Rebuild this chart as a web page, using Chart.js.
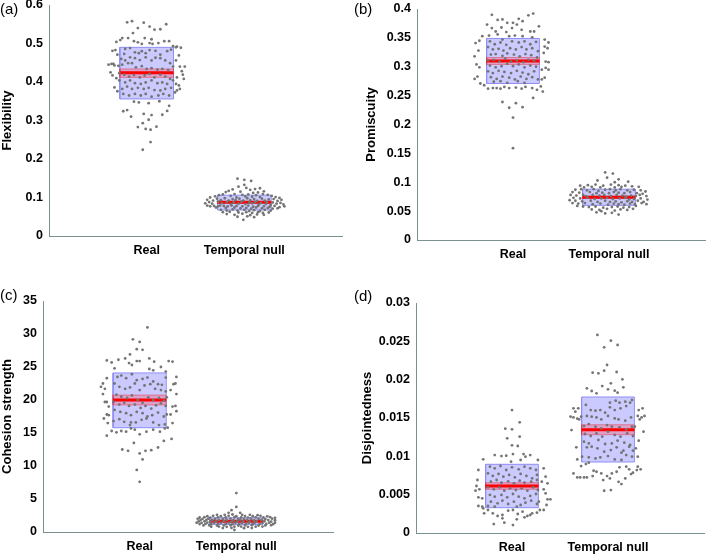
<!DOCTYPE html>
<html>
<head>
<meta charset="utf-8">
<script src="https://cdn.jsdelivr.net/npm/chart.js@4.4.1/dist/chart.umd.min.js"></script>
<style>
  body { margin: 0; background: #fff; }
  #wrap { position: relative; width: 709px; height: 554px; }
  #wrap canvas { position: absolute; left: 0; top: 0; }
  .tag { position: absolute; font: 15px "Liberation Sans", Arial, sans-serif; color: #000; line-height: 18px; }
</style>
</head>
<body>
<div id="wrap">
  <canvas id="pa" width="709" height="554"></canvas>
  <canvas id="pb" width="709" height="554"></canvas>
  <canvas id="pc" width="709" height="554"></canvas>
  <canvas id="pd" width="709" height="554"></canvas>
  <div class="tag" style="left:0;top:0">(a)</div>
  <div class="tag" style="left:354px;top:0">(b)</div>
  <div class="tag" style="left:0;top:286px">(c)</div>
  <div class="tag" style="left:354px;top:287px">(d)</div>
</div>
<script>
// categories and axis setup
const groups = ['Real', 'Temporal null'];
const yTitles = ['Flexibility', 'Promiscuity', 'Cohesion strength', 'Disjointedness'];
const yMax = [0.6, 0.4, 35, 0.03];
const yStep = [0.1, 0.05, 5, 0.005];

// summary stats per panel: [Real, Temporal null]
const means   = [[0.424, 0.0875], [0.310, 0.074], [20.0, 1.62], [0.00613, 0.01347]];
const boxLow  = [[0.356, 0.0675], [0.271, 0.060], [15.8, 1.15], [0.0033, 0.00926]];
const boxHigh = [[0.490, 0.106],  [0.349, 0.088], [24.1, 2.15], [0.00896, 0.01774]];
const semLow  = [[0.412, 0.085],  [0.304, 0.072], [19.25, 1.55], [0.0057, 0.01282]];
const semHigh = [[0.434, 0.090],  [0.316, 0.076], [20.75, 1.70], [0.00656, 0.01412]];

// individual subjects: [horizontal jitter, value]
const flexReal = [
  [-0.20,0.555],[-0.15,0.558],[-0.03,0.554],[-0.09,0.540],[0.03,0.544],[0.08,0.536],[0.14,0.537],[0.20,0.550],
  [-0.25,0.514],[-0.19,0.514],[-0.31,0.504],[-0.27,0.509],[-0.14,0.527],[-0.09,0.503],[-0.05,0.499],[-0.02,0.514],
  [0.05,0.511],[0.06,0.499],[0.12,0.501],[0.18,0.506],[0.23,0.506],[0.31,0.492],[0.27,0.493],[0.35,0.489],[0.03,0.501],[-0.13,0.506],
  [-0.35,0.481],[-0.32,0.483],[-0.23,0.473],[-0.22,0.486],[-0.17,0.488],[-0.12,0.477],[-0.08,0.475],[-0.05,0.480],
  [-0.01,0.475],[0.03,0.483],[0.09,0.481],[0.14,0.471],[0.21,0.480],[0.25,0.484],[0.30,0.490],[0.33,0.469],
  [0.30,0.456],[0.24,0.449],[0.19,0.456],[0.14,0.462],[0.09,0.463],[0.05,0.456],[-0.01,0.464],[-0.07,0.457],
  [-0.12,0.462],[-0.17,0.464],[-0.22,0.456],[-0.26,0.460],[-0.30,0.471],[-0.34,0.447],[-0.39,0.445],[-0.36,0.447],
  [-0.33,0.443],[-0.29,0.442],[-0.25,0.445],[-0.19,0.449],[-0.15,0.449],[-0.11,0.438],[-0.05,0.441],[0.00,0.434],
  [0.05,0.436],[0.11,0.432],[0.16,0.434],[0.22,0.431],[0.27,0.440],[0.34,0.440],[0.39,0.440],[0.36,0.428],
  [0.37,0.419],[0.38,0.408],[0.31,0.412],[0.24,0.408],[0.19,0.414],[0.14,0.419],[0.08,0.412],[0.03,0.421],
  [-0.02,0.417],[-0.07,0.412],[-0.13,0.418],[-0.18,0.414],[-0.23,0.419],[-0.28,0.423],[-0.37,0.425],[-0.35,0.417],
  [-0.31,0.410],[-0.28,0.404],[-0.22,0.399],[-0.17,0.404],[-0.12,0.397],[-0.06,0.395],[-0.01,0.399],[0.05,0.404],
  [0.11,0.397],[0.16,0.399],[0.21,0.395],[0.27,0.404],[0.30,0.395],[0.33,0.391],[0.25,0.385],[0.19,0.382],
  [0.14,0.378],[0.08,0.379],[0.02,0.385],[-0.03,0.382],[-0.09,0.385],[-0.15,0.382],[-0.20,0.388],[-0.25,0.382],
  [-0.33,0.386],[-0.30,0.376],[-0.24,0.369],[-0.18,0.365],[-0.12,0.369],[-0.06,0.365],[-0.01,0.369],[0.05,0.362],
  [0.12,0.365],[0.17,0.369],[0.23,0.365],[0.29,0.373],[0.31,0.378],[0.34,0.382],
  [-0.13,0.349],[-0.08,0.347],[0.02,0.345],[0.13,0.350],[0.23,0.338],[-0.20,0.327],[-0.24,0.324],[-0.16,0.310],
  [-0.03,0.317],[0.05,0.314],[0.16,0.315],[0.21,0.325],[0.02,0.302],[-0.09,0.283],[-0.04,0.293],[-0.01,0.278],
  [0.04,0.276],[0.10,0.284],[0.04,0.244],[-0.04,0.224]
];
const flexNull = [
  [-0.07,0.149],[0.00,0.146],[0.07,0.143],[0.00,0.133],[-0.06,0.128],[0.02,0.125],[-0.12,0.121],[0.06,0.120],
  [0.11,0.122],[0.16,0.124],[-0.16,0.117],[0.20,0.116],[-0.19,0.114],[0.14,0.113],[-0.04,0.115],[0.09,0.112],
  [-0.22,0.108],[-0.26,0.106],[-0.10,0.109],[-0.02,0.107],[0.04,0.108],[0.12,0.106],[0.19,0.109],[0.24,0.107],
  [0.28,0.104],[-0.30,0.103],[-0.14,0.104],[0.01,0.103],[0.08,0.102],[0.16,0.101],[0.32,0.101],[-0.35,0.100],
  [0.36,0.099],[-0.08,0.100],[-0.28,0.097],[-0.20,0.098],[-0.12,0.096],[-0.05,0.097],[0.03,0.098],[0.10,0.096],
  [0.18,0.097],[0.25,0.095],[0.30,0.096],[0.38,0.094],[-0.38,0.094],[-0.32,0.092],[-0.24,0.093],[-0.16,0.092],
  [-0.09,0.093],[-0.01,0.092],[0.06,0.093],[0.13,0.091],[0.21,0.092],[0.34,0.091],[-0.36,0.088],[-0.27,0.089],
  [-0.18,0.088],[-0.11,0.087],[-0.03,0.089],[0.05,0.087],[0.11,0.088],[0.17,0.086],[0.23,0.088],[0.29,0.087],
  [0.37,0.086],[-0.40,0.085],[-0.33,0.084],[-0.23,0.085],[-0.14,0.083],[-0.06,0.084],[0.01,0.083],[0.08,0.085],
  [0.15,0.082],[0.22,0.083],[0.27,0.081],[0.33,0.084],[0.40,0.082],[-0.38,0.079],[-0.35,0.077],[-0.31,0.078],
  [-0.27,0.077],[-0.25,0.079],[-0.21,0.078],[-0.17,0.077],[-0.13,0.079],[-0.08,0.078],[-0.02,0.077],[0.04,0.079],
  [0.09,0.076],[0.14,0.078],[0.20,0.077],[0.26,0.076],[0.31,0.078],[0.36,0.075],[0.41,0.077],[-0.29,0.074],
  [-0.19,0.073],[-0.10,0.074],[-0.04,0.072],[0.02,0.073],[0.07,0.071],[0.12,0.074],[0.18,0.072],[0.24,0.073],
  [0.29,0.071],[0.34,0.072],[-0.24,0.068],[-0.18,0.066],[-0.12,0.069],[-0.07,0.066],[0.00,0.068],[0.05,0.065],
  [0.10,0.067],[0.16,0.065],[0.21,0.068],[0.27,0.066],[-0.22,0.062],[-0.15,0.063],[-0.06,0.061],[0.02,0.062],
  [0.08,0.060],[0.14,0.062],[0.19,0.060],[0.25,0.061],[-0.18,0.057],[-0.10,0.055],[-0.02,0.058],[0.06,0.054],
  [0.13,0.056],[0.20,0.055],[-0.07,0.050],[0.03,0.051],[0.10,0.049],[-0.01,0.042]
];
const promReal = [
  [-0.22,0.390],[-0.16,0.381],[-0.11,0.382],[-0.06,0.376],[0.00,0.376],[0.06,0.383],[0.10,0.379],[0.16,0.389],
  [0.21,0.392],[-0.27,0.373],[-0.22,0.367],[-0.18,0.361],[-0.12,0.368],[-0.07,0.360],[-0.01,0.367],[0.04,0.373],
  [0.09,0.364],[0.18,0.361],[0.22,0.361],[0.27,0.370],[-0.32,0.353],[-0.25,0.354],[-0.16,0.356],[-0.11,0.347],
  [-0.04,0.353],[0.02,0.354],[0.10,0.353],[0.20,0.351],[0.33,0.347],
  [-0.39,0.341],[-0.35,0.345],[-0.36,0.328],[-0.40,0.318],[-0.38,0.304],[-0.35,0.299],[-0.40,0.279],[-0.37,0.283],
  [-0.34,0.271],[-0.30,0.268],[0.33,0.335],[0.37,0.342],[0.36,0.332],[0.32,0.324],[0.34,0.309],[0.37,0.308],
  [0.30,0.295],[0.34,0.298],[0.37,0.295],[0.33,0.281],[0.30,0.278],[0.29,0.266],[0.31,0.257],
  [-0.24,0.344],[-0.19,0.339],[-0.13,0.342],[-0.07,0.338],[-0.01,0.344],[0.06,0.342],[0.12,0.344],[0.18,0.339],
  [0.24,0.343],[-0.26,0.334],[-0.21,0.330],[-0.15,0.331],[-0.10,0.328],[-0.03,0.332],[0.03,0.330],[0.09,0.334],
  [0.14,0.330],[0.20,0.332],[0.26,0.327],[-0.23,0.321],[-0.18,0.322],[-0.11,0.319],[-0.06,0.323],[0.01,0.321],
  [0.07,0.318],[0.13,0.322],[0.19,0.320],[0.25,0.316],[-0.26,0.311],[-0.20,0.312],[-0.14,0.309],[-0.08,0.314],
  [-0.02,0.309],[0.04,0.311],[0.11,0.308],[0.16,0.312],[0.22,0.311],[-0.24,0.302],[-0.18,0.299],[-0.12,0.301],
  [-0.06,0.305],[0.00,0.301],[0.06,0.304],[0.12,0.299],[0.18,0.302],[0.24,0.300],[-0.26,0.292],[-0.21,0.289],
  [-0.15,0.293],[-0.09,0.291],[-0.02,0.289],[0.04,0.293],[0.10,0.290],[0.16,0.287],[0.22,0.292],[-0.23,0.282],
  [-0.17,0.279],[-0.11,0.283],[-0.04,0.281],[0.02,0.278],[0.08,0.283],[0.14,0.279],[0.20,0.282],[0.26,0.278],
  [-0.20,0.274],[-0.13,0.275],[-0.06,0.272],[0.05,0.275],[0.12,0.272],
  [-0.26,0.262],[-0.21,0.263],[-0.17,0.263],[-0.13,0.262],[-0.09,0.265],[-0.04,0.263],[0.03,0.264],[0.09,0.262],
  [0.13,0.265],[0.20,0.263],[0.25,0.260],[-0.11,0.239],[0.03,0.237],[-0.04,0.229],[0.10,0.230],[0.00,0.212],
  [0.00,0.159],[0.21,0.246]
];
const promNull = [
  [-0.04,0.117],[0.04,0.115],[-0.02,0.108],[0.10,0.105],[-0.12,0.103],[0.20,0.101],[0.06,0.100],
  [-0.30,0.094],[-0.22,0.095],[-0.14,0.096],[-0.06,0.094],[0.02,0.096],[0.10,0.095],[0.17,0.094],[0.24,0.093],
  [0.31,0.092],[-0.26,0.091],[-0.18,0.092],[-0.09,0.091],[0.13,0.092],[0.06,0.091],
  [-0.35,0.087],[-0.29,0.088],[-0.23,0.086],[-0.16,0.088],[-0.11,0.085],[-0.04,0.087],[0.01,0.088],[0.07,0.086],
  [0.12,0.088],[0.19,0.086],[0.26,0.087],[0.33,0.086],[0.38,0.084],[-0.38,0.083],[-0.31,0.082],[-0.20,0.083],
  [-0.13,0.081],[-0.07,0.082],[0.00,0.081],[0.05,0.083],[0.10,0.082],[0.16,0.081],[0.22,0.083],[0.29,0.081],[0.35,0.080],
  [-0.40,0.078],[-0.34,0.077],[-0.27,0.078],[-0.24,0.076],[-0.17,0.078],[-0.10,0.077],[-0.05,0.078],[0.02,0.076],
  [0.08,0.078],[0.14,0.077],[0.18,0.075],[0.23,0.077],[0.28,0.076],[0.32,0.078],[0.39,0.076],[-0.37,0.073],
  [-0.30,0.072],[-0.22,0.073],[-0.15,0.071],[-0.08,0.072],[-0.02,0.073],[0.04,0.071],[0.11,0.072],[0.17,0.073],
  [0.21,0.070],[0.26,0.071],[0.33,0.072],[0.40,0.070],
  [-0.41,0.069],[-0.35,0.068],[-0.28,0.067],[-0.19,0.068],[-0.12,0.066],[-0.04,0.068],[0.01,0.066],[0.07,0.067],
  [0.13,0.065],[0.19,0.067],[0.24,0.066],[0.30,0.068],[0.36,0.066],[-0.38,0.064],[-0.32,0.063],[-0.25,0.064],
  [-0.17,0.062],[-0.09,0.063],[-0.01,0.061],[0.05,0.063],[0.10,0.062],[0.16,0.061],[0.22,0.063],[0.27,0.062],
  [0.34,0.064],[0.39,0.062],
  [-0.33,0.059],[-0.27,0.058],[-0.21,0.057],[-0.14,0.058],[-0.06,0.056],[0.03,0.057],[0.09,0.058],[0.15,0.056],
  [0.21,0.057],[0.28,0.059],[-0.18,0.053],[-0.10,0.052],[-0.02,0.054],[0.06,0.051],[0.12,0.053],[0.19,0.052],
  [0.25,0.054],[-0.13,0.048],[-0.04,0.046],[0.03,0.047],[0.10,0.044],[-0.08,0.050]
];
const cohReal = [
  [0.08,31.0],[-0.07,29.2],[0.00,28.8],[-0.03,27.7],[0.03,27.6],[-0.10,26.9],[-0.34,26.0],[-0.29,25.7],
  [-0.22,26.1],[-0.15,26.3],[-0.11,25.6],[-0.08,25.3],[-0.03,25.9],[0.00,25.9],[0.10,26.3],[0.15,25.8],
  [0.22,25.0],[0.30,25.9],[0.34,25.8],[-0.26,24.8],[0.10,24.7],[0.14,24.5],[0.27,24.3],
  [-0.34,23.3],[-0.38,22.5],[-0.40,22.0],[-0.36,21.7],[-0.38,20.9],[-0.36,19.7],[-0.34,19.7],[-0.32,19.0],
  [-0.34,17.8],[-0.32,17.7],[-0.37,17.2],[-0.33,16.5],[-0.34,14.6],[-0.29,15.3],
  [0.38,23.5],[0.35,22.4],[0.37,22.5],[0.38,20.9],[0.32,21.5],[0.34,19.0],[0.37,19.1],[0.38,18.3],
  [0.32,17.8],[0.34,16.5],[0.29,15.8],[0.33,14.1],[0.25,13.8],
  [-0.23,23.5],[-0.19,23.7],[-0.14,23.3],[-0.08,23.9],[-0.03,23.0],[0.03,23.2],[0.08,23.4],[0.14,22.8],
  [0.19,22.4],[0.23,22.3],[0.27,23.4],[-0.26,22.5],[-0.21,22.0],[-0.15,21.7],[-0.10,21.9],[-0.05,22.5],
  [0.00,21.5],[0.05,22.2],[0.11,22.4],[0.16,21.7],[0.22,21.5],[0.27,21.3],[-0.24,20.8],[-0.19,20.5],
  [-0.13,20.3],[-0.08,20.7],[-0.02,20.0],[0.03,19.6],[0.09,20.4],[0.14,20.0],[0.20,20.3],[0.25,19.9],
  [0.28,20.4],[-0.27,19.7],[-0.21,19.3],[-0.16,19.6],[-0.11,19.1],[-0.05,19.3],[0.01,18.8],[0.06,19.1],
  [0.12,18.7],[0.17,19.2],[0.22,19.5],[0.27,19.1],[-0.26,18.5],[-0.20,18.2],[-0.14,18.0],[-0.09,17.7],
  [-0.03,18.2],[0.03,18.0],[0.08,17.5],[0.13,17.7],[0.19,18.1],[0.25,17.5],[0.28,17.8],[-0.27,16.8],
  [-0.21,17.1],[-0.16,16.7],[-0.10,16.2],[-0.04,16.6],[0.02,17.0],[0.07,17.2],[0.14,16.6],[0.20,16.2],
  [0.26,16.3],[-0.09,16.6],
  [-0.24,15.1],[-0.19,15.3],[-0.14,15.2],[-0.05,15.5],[0.00,14.8],[0.07,15.2],[0.14,15.5],[0.21,15.2],
  [0.26,15.7],[-0.09,15.7],[-0.06,13.5],[-0.18,12.5],[-0.12,12.3],[0.00,11.9],[0.06,12.3],[0.12,12.4],
  [0.19,12.8],[0.03,11.0],[-0.03,9.4],[0.00,7.6]
];
const cohNull = [
  [0.00,5.9],[0.00,3.8],[-0.05,3.3],[-0.08,2.9],[0.04,2.9],[-0.02,0.3],
  [-0.20,2.6],[-0.12,2.6],[-0.04,2.65],[0.06,2.6],[0.14,2.6],[0.22,2.55],
  [-0.30,2.4],[-0.24,2.45],[-0.16,2.4],[-0.08,2.45],[0.00,2.4],[0.09,2.42],[0.17,2.4],[0.25,2.45],[0.32,2.38],
  [-0.38,2.2],[-0.33,2.25],[-0.27,2.18],[-0.19,2.22],[-0.11,2.2],[-0.02,2.25],[0.05,2.2],[0.12,2.18],
  [0.20,2.22],[0.28,2.2],[0.35,2.24],[0.40,2.15],
  [-0.40,2.0],[-0.35,1.98],[-0.29,2.02],[-0.22,2.0],[-0.14,1.97],[-0.06,2.03],[0.02,2.0],[0.08,1.98],
  [0.15,2.02],[0.23,2.0],[0.30,1.97],[0.37,2.02],
  [-0.37,1.8],[-0.31,1.82],[-0.25,1.78],[-0.18,1.8],[-0.10,1.83],[-0.03,1.78],[0.04,1.82],[0.11,1.8],
  [0.18,1.78],[0.26,1.82],[0.33,1.8],[0.40,1.78],
  [-0.39,1.6],[-0.33,1.62],[-0.27,1.58],[-0.21,1.6],[-0.13,1.63],[-0.05,1.57],[0.01,1.6],[0.07,1.62],
  [0.14,1.58],[0.21,1.6],[0.29,1.63],[0.36,1.58],
  [-0.41,1.4],[-0.36,1.38],[-0.30,1.42],[-0.23,1.4],[-0.16,1.37],[-0.08,1.42],[-0.01,1.4],[0.06,1.38],
  [0.13,1.42],[0.19,1.4],[0.27,1.38],[0.34,1.42],[0.40,1.4],
  [-0.38,1.2],[-0.32,1.22],[-0.26,1.18],[-0.19,1.2],[-0.11,1.23],[-0.04,1.18],[0.03,1.2],[0.10,1.22],
  [0.17,1.18],[0.24,1.2],[0.31,1.22],[0.38,1.18],
  [-0.34,1.0],[-0.28,1.02],[-0.20,0.98],[-0.13,1.0],[-0.06,1.02],[0.02,0.98],[0.09,1.0],[0.16,1.02],
  [0.23,0.98],[0.30,1.0],[0.36,1.03],
  [-0.26,0.8],[-0.18,0.82],[-0.10,0.78],[-0.02,0.8],[0.05,0.82],[0.12,0.78],[0.20,0.8],[0.27,0.82],
  [-0.14,0.6],[-0.05,0.62],[0.08,0.58],[0.16,0.6]
];
const disjReal = [
  [0.00,0.01604],[0.08,0.01444],[-0.07,0.01361],[0.00,0.01352],[-0.05,0.01235],[0.08,0.01256],[0.00,0.01143],
  [0.06,0.01135],[-0.18,0.01017],[-0.11,0.01004],[-0.06,0.01009],[0.01,0.01030],[0.12,0.01030],[0.19,0.01017],
  [-0.30,0.00961],[-0.01,0.00930],[0.09,0.00952],[0.14,0.00996],[0.27,0.00952],
  [-0.35,0.00822],[-0.36,0.00691],[-0.37,0.00613],[-0.38,0.00552],[-0.34,0.00570],[-0.35,0.00465],[-0.31,0.00452],
  [-0.35,0.00352],[-0.31,0.00344],[-0.29,0.00257],
  [0.33,0.00844],[0.35,0.00735],[0.31,0.00670],[0.37,0.00648],[0.33,0.00570],[0.35,0.00517],[0.37,0.00439],
  [0.40,0.00439],[0.36,0.00365],[0.33,0.00300],
  [-0.23,0.00865],[-0.18,0.00844],[-0.12,0.00874],[-0.06,0.00822],[0.00,0.00857],[0.07,0.00830],[0.13,0.00865],
  [0.19,0.00844],[0.25,0.00822],[-0.25,0.00778],[-0.20,0.00744],[-0.14,0.00770],[-0.09,0.00735],[-0.03,0.00757],
  [0.03,0.00726],[0.09,0.00770],[0.15,0.00744],[0.21,0.00713],[0.26,0.00757],[-0.22,0.00670],[-0.16,0.00691],
  [-0.11,0.00657],[-0.04,0.00674],[0.02,0.00648],[0.08,0.00683],[0.13,0.00657],[0.20,0.00670],[0.26,0.00691],
  [-0.25,0.00596],[-0.19,0.00570],[-0.13,0.00596],[-0.08,0.00552],[-0.02,0.00583],[0.04,0.00561],[0.10,0.00583],
  [0.16,0.00552],[0.22,0.00596],[0.27,0.00561],[-0.23,0.00496],[-0.18,0.00474],[-0.11,0.00496],[-0.05,0.00465],
  [0.01,0.00509],[0.07,0.00474],[0.13,0.00452],[0.19,0.00483],[0.25,0.00509],[-0.22,0.00409],[-0.15,0.00387],
  [-0.10,0.00422],[-0.04,0.00378],[0.02,0.00409],[0.09,0.00365],[0.14,0.00396],[0.20,0.00422],[0.26,0.00378],
  [-0.25,0.00352],[-0.18,0.00344],[0.05,0.00344],[0.28,0.00409],
  [-0.25,0.00300],[-0.20,0.00257],[-0.15,0.00222],[-0.10,0.00235],[-0.04,0.00291],[0.01,0.00300],[0.06,0.00248],
  [0.11,0.00278],[0.16,0.00222],[0.21,0.00257],[0.26,0.00265],[0.29,0.00300],[-0.30,0.00322],[-0.10,0.00191],
  [0.05,0.00178],[0.13,0.00204],[0.19,0.00235],[-0.19,0.00117],[-0.08,0.00135],[0.01,0.00104]
];
const disjNull = [
  [-0.11,0.02583],[-0.04,0.02422],[0.03,0.02509],[0.10,0.02452],[-0.01,0.02191],[-0.16,0.02091],[-0.10,0.02083],
  [-0.04,0.02117],[0.09,0.02100],[0.15,0.02004],[-0.06,0.01917],[0.03,0.01952],[0.00,0.01874],[0.07,0.01857],
  [0.10,0.01830],[-0.22,0.01887],[-0.17,0.01852],[-0.12,0.01822],[0.16,0.01900],
  [-0.36,0.01626],[-0.31,0.01626],[-0.34,0.01583],[-0.39,0.01517],[-0.36,0.01508],[-0.32,0.01491],[-0.28,0.01517],
  [-0.38,0.01343],[-0.33,0.01117],[-0.32,0.00960],[-0.30,0.01482],
  [0.32,0.01604],[0.36,0.01626],[0.31,0.01526],[0.35,0.01508],[0.38,0.01526],[0.33,0.01482],[0.28,0.01387],
  [0.37,0.01321],[0.32,0.01204],[0.29,0.01104],[0.31,0.00995],
  [-0.23,0.01670],[-0.18,0.01604],[-0.13,0.01596],[-0.08,0.01604],[-0.03,0.01570],[0.02,0.01639],[0.07,0.01604],
  [0.13,0.01626],[0.19,0.01656],[0.23,0.01700],[0.25,0.01735],[0.18,0.01713],[0.12,0.01700],[0.08,0.01726],
  [0.02,0.01700],[-0.22,0.01526],[-0.17,0.01517],[-0.12,0.01508],[-0.07,0.01482],[0.00,0.01526],[0.07,0.01495],
  [0.11,0.01482],[0.18,0.01465],[0.24,0.01508],[-0.25,0.01395],[-0.20,0.01421],[-0.13,0.01387],[-0.07,0.01365],
  [-0.01,0.01408],[0.04,0.01387],[0.12,0.01378],[0.19,0.01352],[0.25,0.01387],[-0.24,0.01291],[-0.18,0.01265],
  [-0.12,0.01300],[-0.06,0.01256],[0.00,0.01321],[0.07,0.01278],[0.13,0.01256],[0.20,0.01300],[0.26,0.01265],
  [-0.25,0.01191],[-0.20,0.01169],[-0.10,0.01213],[-0.03,0.01161],[0.04,0.01169],[0.10,0.01204],[0.17,0.01178],
  [0.23,0.01148],[-0.22,0.01117],[-0.17,0.01126],[-0.11,0.01104],[-0.04,0.01061],[0.03,0.01082],[0.09,0.01117],
  [0.16,0.01074],[0.22,0.01126],[0.26,0.01074],[-0.27,0.00995],[-0.20,0.00987],[-0.13,0.00973],[-0.08,0.00987],
  [0.00,0.01004],[0.07,0.00960],[0.14,0.01048],[0.19,0.01017],[0.25,0.00995],[0.14,0.00952],
  [-0.28,0.00873],[-0.23,0.00899],[-0.20,0.00917],[-0.15,0.00812],[-0.12,0.00799],[-0.07,0.00777],[-0.01,0.00743],
  [0.04,0.00777],[0.09,0.00799],[0.12,0.00856],[0.19,0.00865],[0.22,0.00830],[0.26,0.00786],[0.30,0.00821],
  [0.31,0.00865],[0.34,0.00830],[-0.36,0.00777],[-0.32,0.00725],[-0.29,0.00725],[-0.25,0.00725],[-0.22,0.00725],
  [-0.05,0.00690],[0.02,0.00712],[0.11,0.00668],[0.14,0.00638],[0.18,0.00712],[-0.04,0.00551],[0.03,0.00560],
  [0.24,0.00769],[-0.16,0.00743]
];
const points = [[flexReal, flexNull], [promReal, promNull], [cohReal, cohNull], [disjReal, disjNull]];

// panel placement on the 709x554 page
const layouts = [
  { id: 'pa', pad: { left: 0,   right: 367, top: 5,   bottom: 288 }, yW: 49, xH: 30 },
  { id: 'pb', pad: { left: 364, right: 2,   top: 9,   bottom: 284 }, yW: 53, xH: 30 },
  { id: 'pc', pad: { left: 0,   right: 376, top: 301, bottom: 0 },   yW: 43, xH: 22 },
  { id: 'pd', pad: { left: 360, right: 5,   top: 303, bottom: 0 },   yW: 56, xH: 21 }
];

const halfW = 0.275;
const axisColor = '#7b9191';
const family = '"Liberation Sans", Arial, sans-serif';
const xFont = { family: family, size: 12.5, weight: 'bold' };
const yFont = { family: family, size: 12.5, weight: 'bold' };
const titleFont = { family: family, size: 13, weight: 'bold' };
Chart.defaults.font.family = family;
Chart.defaults.color = '#000';

function seg(c, y) {
  return [{ x: c - halfW, y: y }, { x: c + halfW, y: y }];
}
function rect(c, lo, hi) {
  return [{ x: c - halfW, y: lo }, { x: c + halfW, y: lo }, { x: c + halfW, y: hi },
          { x: c - halfW, y: hi }, { x: c - halfW, y: lo }];
}
const lineBase = { type: 'line', pointRadius: 0, tension: 0, fill: false };

layouts.forEach((lay, p) => {
  const meanSets = [], pts = [], sems = [], boxes = [];
  groups.forEach((g, i) => {
    const c = i + 1;
    meanSets.push({ ...lineBase, data: seg(c, means[p][i]), borderColor: '#ff0000', borderWidth: 3 });
    pts.push({
      type: 'scatter',
      data: points[p][i].map(d => ({ x: c + d[0], y: d[1] })),
      pointRadius: 1.4, pointBorderWidth: 0, backgroundColor: '#747474'
    });
    sems.push({ ...lineBase, data: rect(c, semLow[p][i], semHigh[p][i]), borderColor: 'rgba(235,40,60,0.45)', borderWidth: 1 });
    sems.push({ ...lineBase, data: seg(c, semHigh[p][i]), borderWidth: 0, borderColor: 'rgba(0,0,0,0)',
                fill: { value: semLow[p][i] }, backgroundColor: 'rgba(255,80,90,0.33)' });
    boxes.push({ ...lineBase, data: rect(c, boxLow[p][i], boxHigh[p][i]), borderColor: '#8e8ef5', borderWidth: 1 });
    boxes.push({ ...lineBase, data: seg(c, boxHigh[p][i]), borderWidth: 0, borderColor: 'rgba(0,0,0,0)',
                 fill: { value: boxLow[p][i] }, backgroundColor: 'rgba(60,60,255,0.27)' });
  });

  // first dataset is painted last, so the dots sit on top of the mean lines
  new Chart(document.getElementById(lay.id), {
    type: 'scatter',
    data: { datasets: [...pts, ...meanSets, ...sems, ...boxes] },
    options: {
      responsive: false,
      animation: false,
      layout: { padding: lay.pad },
      plugins: { legend: { display: false }, tooltip: { enabled: false } },
      scales: {
        x: {
          type: 'linear', min: 0, max: 3,
          grid: { display: false, drawTicks: false },
          border: { display: true, color: axisColor, width: 1 },
          afterBuildTicks: s => { s.ticks = groups.map((g, i) => ({ value: i + 1 })); },
          afterFit: s => { s.height = lay.xH; s.paddingLeft = 0; s.paddingRight = 0; },
          ticks: { font: xFont, padding: 7, autoSkip: false, maxRotation: 0,
                   callback: v => groups[v - 1] }
        },
        y: {
          type: 'linear', min: 0, max: yMax[p],
          grid: { display: false, drawTicks: false },
          border: { display: true, color: axisColor, width: 1 },
          afterFit: s => { s.width = lay.yW; s.paddingTop = 0; s.paddingBottom = 0; },
          ticks: { font: yFont, padding: 6, stepSize: yStep[p],
                   callback: v => String(+v.toFixed(4)) },
          title: { display: true, text: yTitles[p], font: titleFont, padding: 0 }
        }
      }
    }
  });
});
</script>
</body>
</html>
